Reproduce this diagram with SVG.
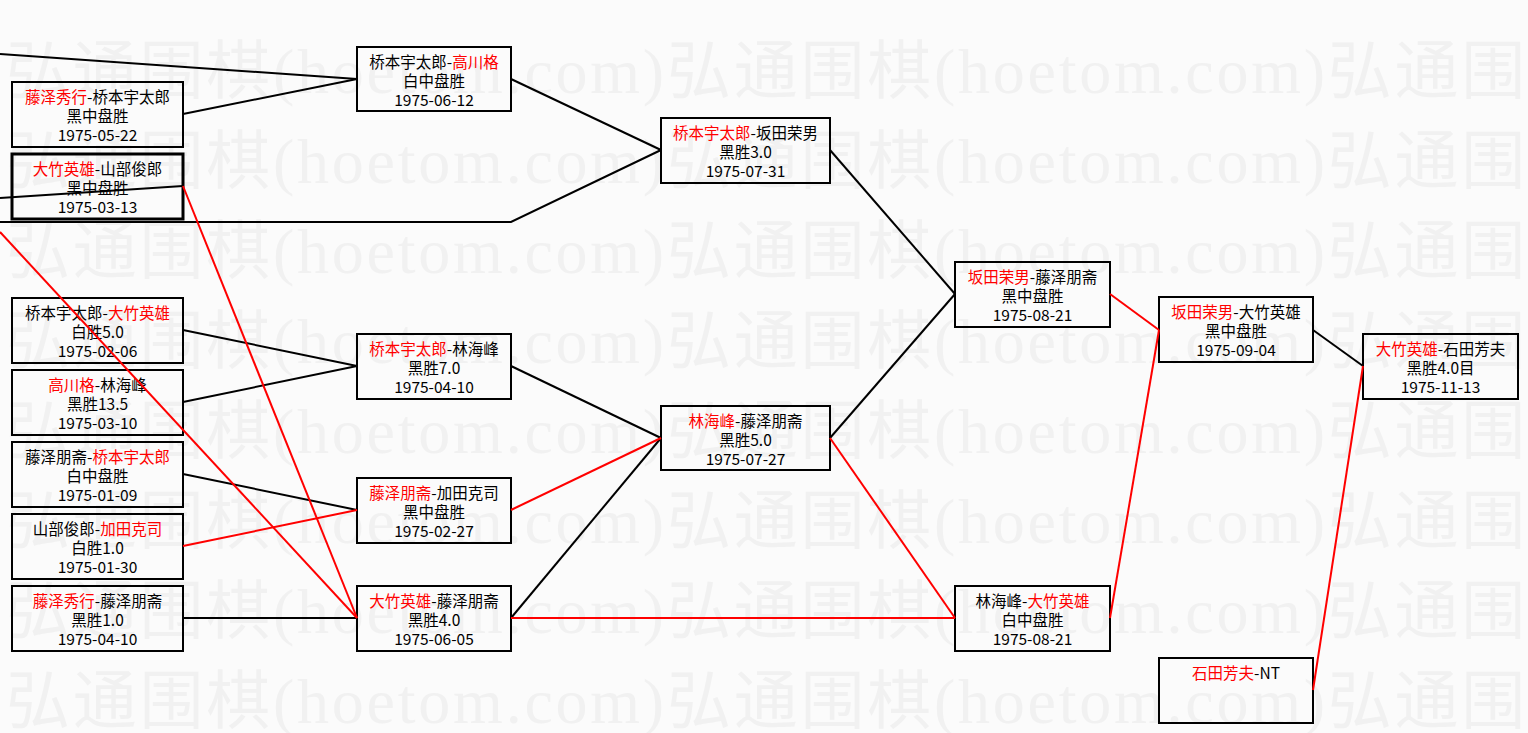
<svg xmlns="http://www.w3.org/2000/svg" width="1528" height="733" viewBox="0 0 1528 733">
<style>
.bg{fill:#fbfbfb}
.wm{font-family:"Liberation Serif","Noto Sans CJK SC",serif;font-size:64px;fill:#f1f1f1}
.box{fill:none;stroke:#000;stroke-width:2}
.t{font-family:"Noto Sans CJK SC","Noto Sans",sans-serif;font-size:15.5px;fill:#000;text-anchor:middle}
.r{fill:#f00}
.k{stroke:#000;stroke-width:2;fill:none}
.rl{stroke:#f00;stroke-width:2;fill:none}
</style>
<rect class="bg" x="0" y="0" width="1528" height="733"/>
<g id="watermark">
<text class="wm" x="6" y="93" textLength="1980" lengthAdjust="spacing">弘通围棋(hoetom.com)弘通围棋(hoetom.com)弘通围棋(hoetom.com)</text>
<text class="wm" x="6" y="183" textLength="1980" lengthAdjust="spacing">弘通围棋(hoetom.com)弘通围棋(hoetom.com)弘通围棋(hoetom.com)</text>
<text class="wm" x="6" y="273" textLength="1980" lengthAdjust="spacing">弘通围棋(hoetom.com)弘通围棋(hoetom.com)弘通围棋(hoetom.com)</text>
<text class="wm" x="6" y="363" textLength="1980" lengthAdjust="spacing">弘通围棋(hoetom.com)弘通围棋(hoetom.com)弘通围棋(hoetom.com)</text>
<text class="wm" x="6" y="453" textLength="1980" lengthAdjust="spacing">弘通围棋(hoetom.com)弘通围棋(hoetom.com)弘通围棋(hoetom.com)</text>
<text class="wm" x="6" y="543" textLength="1980" lengthAdjust="spacing">弘通围棋(hoetom.com)弘通围棋(hoetom.com)弘通围棋(hoetom.com)</text>
<text class="wm" x="6" y="633" textLength="1980" lengthAdjust="spacing">弘通围棋(hoetom.com)弘通围棋(hoetom.com)弘通围棋(hoetom.com)</text>
<text class="wm" x="6" y="723" textLength="1980" lengthAdjust="spacing">弘通围棋(hoetom.com)弘通围棋(hoetom.com)弘通围棋(hoetom.com)</text>
</g>
<g id="nodes">
<g id="nA"><rect class="box" x="12" y="82" width="171" height="65"/><text class="t" x="97.5" y="103"><tspan class="r">藤泽秀行</tspan>-桥本宇太郎</text><text class="t" x="97.5" y="122">黑中盘胜</text><text class="t" x="97.5" y="141">1975-05-22</text></g>
<g id="nB"><rect class="box" style="stroke-width:3" x="12" y="154" width="171" height="65"/><text class="t" x="97.5" y="175"><tspan class="r">大竹英雄</tspan>-山部俊郎</text><text class="t" x="97.5" y="194">黑中盘胜</text><text class="t" x="97.5" y="213">1975-03-13</text></g>
<g id="nC"><rect class="box" x="12" y="298" width="171" height="65"/><text class="t" x="97.5" y="319">桥本宇太郎-<tspan class="r">大竹英雄</tspan></text><text class="t" x="97.5" y="338">白胜5.0</text><text class="t" x="97.5" y="357">1975-02-06</text></g>
<g id="nD"><rect class="box" x="12" y="370" width="171" height="65"/><text class="t" x="97.5" y="391"><tspan class="r">高川格</tspan>-林海峰</text><text class="t" x="97.5" y="410">黑胜13.5</text><text class="t" x="97.5" y="429">1975-03-10</text></g>
<g id="nE"><rect class="box" x="12" y="442" width="171" height="65"/><text class="t" x="97.5" y="463">藤泽朋斋-<tspan class="r">桥本宇太郎</tspan></text><text class="t" x="97.5" y="482">白中盘胜</text><text class="t" x="97.5" y="501">1975-01-09</text></g>
<g id="nF"><rect class="box" x="12" y="514" width="171" height="65"/><text class="t" x="97.5" y="535">山部俊郎-<tspan class="r">加田克司</tspan></text><text class="t" x="97.5" y="554">白胜1.0</text><text class="t" x="97.5" y="573">1975-01-30</text></g>
<g id="nG"><rect class="box" x="12" y="586" width="171" height="65"/><text class="t" x="97.5" y="607"><tspan class="r">藤泽秀行</tspan>-藤泽朋斋</text><text class="t" x="97.5" y="626">黑胜1.0</text><text class="t" x="97.5" y="645">1975-04-10</text></g>
<g id="nH"><rect class="box" x="357" y="47" width="154" height="64"/><text class="t" x="434" y="68">桥本宇太郎-<tspan class="r">高川格</tspan></text><text class="t" x="434" y="87">白中盘胜</text><text class="t" x="434" y="106">1975-06-12</text></g>
<g id="nI"><rect class="box" x="357" y="334" width="154" height="65"/><text class="t" x="434" y="355"><tspan class="r">桥本宇太郎</tspan>-林海峰</text><text class="t" x="434" y="374">黑胜7.0</text><text class="t" x="434" y="393">1975-04-10</text></g>
<g id="nJ"><rect class="box" x="357" y="478" width="154" height="65"/><text class="t" x="434" y="499"><tspan class="r">藤泽朋斋</tspan>-加田克司</text><text class="t" x="434" y="518">黑中盘胜</text><text class="t" x="434" y="537">1975-02-27</text></g>
<g id="nK"><rect class="box" x="357" y="586" width="154" height="65"/><text class="t" x="434" y="607"><tspan class="r">大竹英雄</tspan>-藤泽朋斋</text><text class="t" x="434" y="626">黑胜4.0</text><text class="t" x="434" y="645">1975-06-05</text></g>
<g id="nL"><rect class="box" x="661" y="118" width="169" height="65"/><text class="t" x="745.5" y="139"><tspan class="r">桥本宇太郎</tspan>-坂田荣男</text><text class="t" x="745.5" y="158">黑胜3.0</text><text class="t" x="745.5" y="177">1975-07-31</text></g>
<g id="nM"><rect class="box" x="661" y="406" width="169" height="64"/><text class="t" x="745.5" y="427"><tspan class="r">林海峰</tspan>-藤泽朋斋</text><text class="t" x="745.5" y="446">黑胜5.0</text><text class="t" x="745.5" y="465">1975-07-27</text></g>
<g id="nN"><rect class="box" x="955" y="262" width="155" height="65"/><text class="t" x="1032.5" y="283"><tspan class="r">坂田荣男</tspan>-藤泽朋斋</text><text class="t" x="1032.5" y="302">黑中盘胜</text><text class="t" x="1032.5" y="321">1975-08-21</text></g>
<g id="nO"><rect class="box" x="955" y="586" width="155" height="65"/><text class="t" x="1032.5" y="607">林海峰-<tspan class="r">大竹英雄</tspan></text><text class="t" x="1032.5" y="626">白中盘胜</text><text class="t" x="1032.5" y="645">1975-08-21</text></g>
<g id="nP"><rect class="box" x="1159" y="297" width="154" height="65"/><text class="t" x="1236" y="318"><tspan class="r">坂田荣男</tspan>-大竹英雄</text><text class="t" x="1236" y="337">黑中盘胜</text><text class="t" x="1236" y="356">1975-09-04</text></g>
<g id="nQ"><rect class="box" x="1159" y="658" width="154" height="65"/><text class="t" x="1236" y="679"><tspan class="r">石田芳夫</tspan>-NT</text></g>
<g id="nR"><rect class="box" x="1363" y="334" width="155" height="65"/><text class="t" x="1440.5" y="355"><tspan class="r">大竹英雄</tspan>-石田芳夫</text><text class="t" x="1440.5" y="374">黑胜4.0目</text><text class="t" x="1440.5" y="393">1975-11-13</text></g>
</g>
<g id="connectors">
<line class="k" x1="0" y1="54" x2="357" y2="79"/>
<line class="k" x1="183" y1="114" x2="357" y2="79"/>
<line class="k" x1="511" y1="79" x2="661" y2="150"/>
<polyline class="k" points="0,222 511,222 661,150"/>
<line class="k" x1="0" y1="198" x2="183" y2="186"/>
<line class="k" x1="183" y1="330" x2="357" y2="366"/>
<line class="k" x1="183" y1="402" x2="357" y2="366"/>
<line class="k" x1="183" y1="474" x2="357" y2="510"/>
<line class="k" x1="183" y1="618" x2="357" y2="618"/>
<line class="k" x1="511" y1="366" x2="661" y2="438"/>
<line class="k" x1="511" y1="618" x2="661" y2="438"/>
<line class="k" x1="830" y1="150" x2="955" y2="294"/>
<line class="k" x1="830" y1="438" x2="955" y2="294"/>
<line class="k" x1="1313" y1="330" x2="1363" y2="366"/>
<line class="rl" x1="183" y1="546" x2="357" y2="510"/>
<line class="rl" x1="511" y1="510" x2="661" y2="438"/>
<line class="rl" x1="183" y1="186" x2="357" y2="618"/>
<line class="rl" x1="0" y1="232" x2="357" y2="618"/>
<line class="rl" x1="511" y1="618" x2="955" y2="618"/>
<line class="rl" x1="830" y1="438" x2="955" y2="618"/>
<line class="rl" x1="1110" y1="294" x2="1159" y2="330"/>
<line class="rl" x1="1110" y1="618" x2="1159" y2="330"/>
<line class="rl" x1="1313" y1="690" x2="1363" y2="366"/>
</g>
</svg>
